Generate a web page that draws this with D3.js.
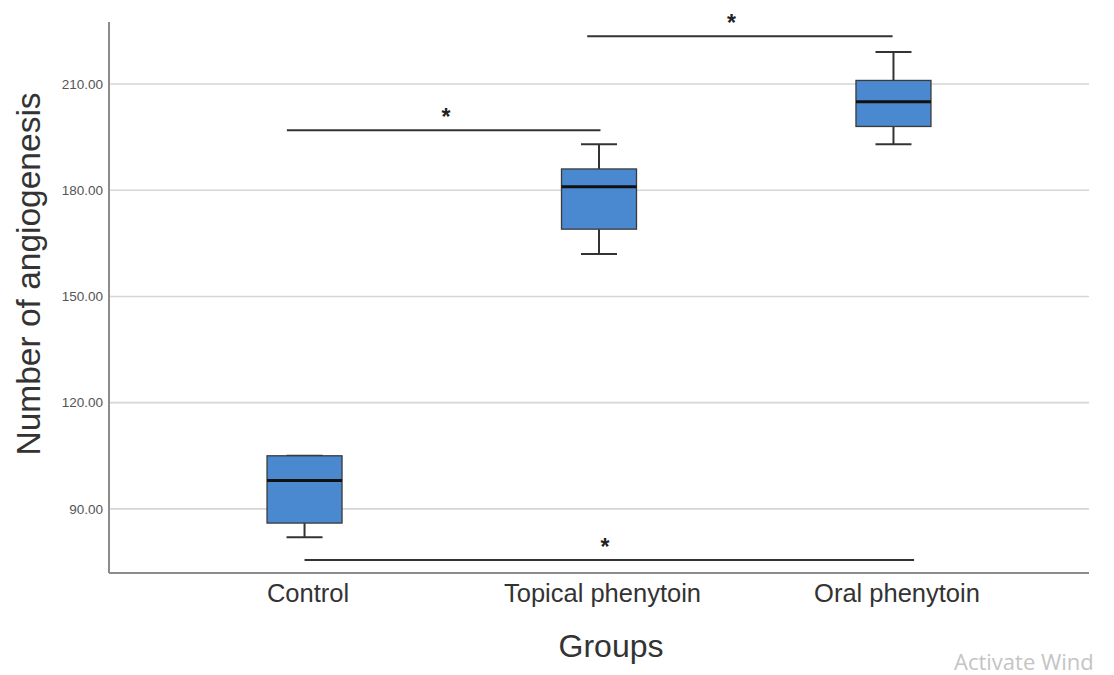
<!DOCTYPE html>
<html>
<head>
<meta charset="utf-8">
<script src="https://cdn.jsdelivr.net/npm/d3@7"></script>
<style>
  body { margin: 0; background: #fff; }
  svg { display: block; font-family: 'Liberation Sans', Arial, sans-serif; }
</style>
</head>
<body>
<div id="chart"></div>
<script>
// Box plot values per group
const groups = ['Control', 'Topical phenytoin', 'Oral phenytoin'];
const mins = [82, 162, 193];
const q1s = [86, 169, 198];
const medians = [98, 181, 205];
const q3s = [105, 186, 211];
const maxs = [105, 193, 219];

const yTicks = [90, 120, 150, 180, 210];

// Significance bars: ends given in group-index units, level in data units
const barFrom = [-0.06, 0.96, 0.0];
const barTo = [1.005, 1.997, 2.07];
const barLevel = [196.9, 223.5, 75.6];
const starAt = [0.48, 1.45, 1.02];

const width = 1114;
const height = 675;
const plot = { left: 109, right: 1089, top: 22, bottom: 573 };

const svg = d3.select('#chart').append('svg')
  .attr('width', width)
  .attr('height', height);

const x = d3.scalePoint()
  .domain(groups)
  .range([plot.left, plot.right])
  .padding(0.664);

// index -> pixel, for the bracket ends
const xi = d3.scaleLinear()
  .domain([0, groups.length - 1])
  .range([x(groups[0]), x(groups[groups.length - 1])]);

const y = d3.scaleLinear()
  .domain([71.9, 227.5])
  .range([plot.bottom, plot.top]);

// Grid lines
svg.append('g')
  .selectAll('line')
  .data(yTicks)
  .enter()
  .append('line')
  .attr('x1', plot.left)
  .attr('x2', plot.right)
  .attr('y1', d => y(d))
  .attr('y2', d => y(d))
  .attr('stroke', '#d6d6d6')
  .attr('stroke-width', 1.6);

// Y axis with labels only
const yAxis = svg.append('g')
  .attr('transform', `translate(${plot.left},0)`)
  .call(d3.axisLeft(y).tickValues(yTicks).tickFormat(d3.format('.2f')).tickSize(0).tickPadding(6));
yAxis.select('.domain').remove();
yAxis.selectAll('text')
  .attr('font-size', 13.5)
  .attr('fill', '#555')
  .attr('font-family', "'Liberation Sans', Arial, sans-serif");

// X axis with labels only
const xAxis = svg.append('g')
  .attr('transform', `translate(0,${plot.bottom})`)
  .call(d3.axisBottom(x).tickSize(0).tickPadding(10));
xAxis.select('.domain').remove();
xAxis.selectAll('text')
  .attr('font-size', 25.5)
  .attr('fill', '#333')
  .attr('dy', '0.73em')
  .attr('dx', 3)
  .attr('font-family', "'Liberation Sans', Arial, sans-serif");

// Axis lines
svg.append('line')
  .attr('x1', plot.left).attr('x2', plot.left)
  .attr('y1', plot.top).attr('y2', plot.bottom)
  .attr('stroke', '#8c8c8c').attr('stroke-width', 2);
svg.append('line')
  .attr('x1', plot.left).attr('x2', plot.right)
  .attr('y1', plot.bottom).attr('y2', plot.bottom)
  .attr('stroke', '#8c8c8c').attr('stroke-width', 2);

// Boxes
const boxW = 75;
const capW = 36;
const stats = groups.map((g, i) => ({
  g, min: mins[i], q1: q1s[i], med: medians[i], q3: q3s[i], max: maxs[i]
}));

const box = svg.append('g')
  .selectAll('g')
  .data(stats)
  .enter()
  .append('g');

// whiskers
box.append('line')
  .attr('x1', d => x(d.g)).attr('x2', d => x(d.g))
  .attr('y1', d => y(d.min)).attr('y2', d => y(d.q1))
  .attr('stroke', '#333').attr('stroke-width', 2);
box.append('line')
  .attr('x1', d => x(d.g)).attr('x2', d => x(d.g))
  .attr('y1', d => y(d.q3)).attr('y2', d => y(d.max))
  .attr('stroke', '#333').attr('stroke-width', 2);
box.append('line')
  .attr('x1', d => x(d.g) - capW / 2).attr('x2', d => x(d.g) + capW / 2)
  .attr('y1', d => y(d.min)).attr('y2', d => y(d.min))
  .attr('stroke', '#333').attr('stroke-width', 2);
box.append('line')
  .attr('x1', d => x(d.g) - capW / 2).attr('x2', d => x(d.g) + capW / 2)
  .attr('y1', d => y(d.max)).attr('y2', d => y(d.max))
  .attr('stroke', '#333').attr('stroke-width', 2);

box.append('rect')
  .attr('x', d => x(d.g) - boxW / 2)
  .attr('width', boxW)
  .attr('y', d => y(d.q3))
  .attr('height', d => y(d.q1) - y(d.q3))
  .attr('fill', '#4a89cf')
  .attr('stroke', '#3a3a3a')
  .attr('stroke-width', 1.3);

box.append('line')
  .attr('x1', d => x(d.g) - boxW / 2).attr('x2', d => x(d.g) + boxW / 2)
  .attr('y1', d => y(d.med)).attr('y2', d => y(d.med))
  .attr('stroke', '#111').attr('stroke-width', 3);

// Significance bars and stars
const sig = svg.append('g')
  .selectAll('g')
  .data(barLevel.map((lv, i) => ({ lv, from: barFrom[i], to: barTo[i], star: starAt[i] })))
  .enter()
  .append('g');

sig.append('line')
  .attr('x1', d => xi(d.from)).attr('x2', d => xi(d.to))
  .attr('y1', d => y(d.lv)).attr('y2', d => y(d.lv))
  .attr('stroke', '#333').attr('stroke-width', 2);

sig.append('text')
  .attr('x', d => xi(d.star))
  .attr('y', d => y(d.lv) - 5)
  .attr('text-anchor', 'middle')
  .attr('font-size', 23)
  .attr('font-weight', 'bold')
  .attr('fill', '#222')
  .text('*');

// Axis titles
svg.append('text')
  .attr('x', 611)
  .attr('y', 657)
  .attr('text-anchor', 'middle')
  .attr('font-size', 32)
  .attr('fill', '#333')
  .text('Groups');

svg.append('text')
  .attr('transform', 'translate(40,274) rotate(-90)')
  .attr('text-anchor', 'middle')
  .attr('font-size', 33.5)
  .attr('fill', '#333')
  .text('Number of angiogenesis');

// Watermark from the screenshot
svg.append('text')
  .attr('x', 954)
  .attr('y', 670)
  .attr('font-size', 22)
  .attr('fill', '#c4c4c4')
  .attr('font-family', "'Open Sans', 'Liberation Sans', sans-serif")
  .text('Activate Wind');
</script>
</body>
</html>
